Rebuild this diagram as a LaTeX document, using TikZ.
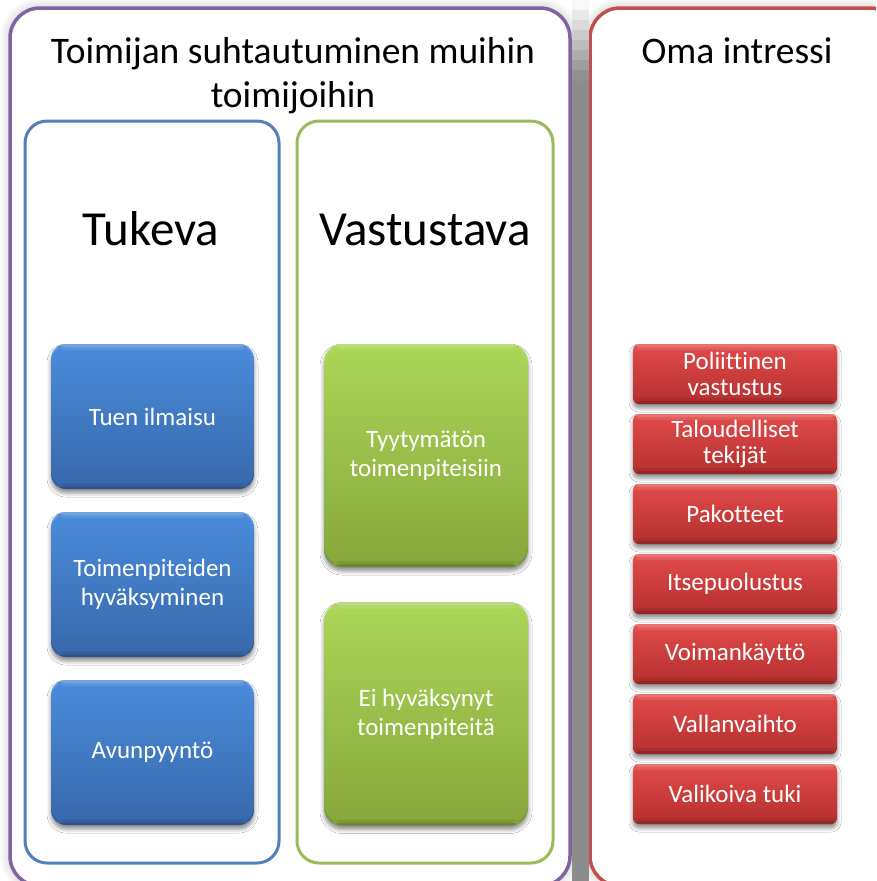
\documentclass[tikz,border=0pt]{standalone}
\usepackage{fontspec}
\setmainfont{Carlito}[Ligatures=NoCommon]
\usetikzlibrary{shadows.blur}

\definecolor{framepurple}{HTML}{8064A2}
\definecolor{frameblue}{HTML}{4F81BD}
\definecolor{framegreen}{HTML}{9BBB59}
\definecolor{framered}{HTML}{C0504D}
\definecolor{bluetop}{HTML}{4A8CDB}
\definecolor{bluebot}{HTML}{3868AA}
\definecolor{greentop}{HTML}{ABD657}
\definecolor{greenbot}{HTML}{86A73C}
\definecolor{redtop}{HTML}{E24B4B}
\definecolor{redbot}{HTML}{B42F2E}
\definecolor{gapgray}{HTML}{8C8C8C}

\begin{document}
\begin{tikzpicture}[x=1pt,y=-1pt,
  outerframe/.style={line width=3.5pt, fill=white, rounded corners=30pt},
  innerframe/.style={line width=3pt, fill=white, rounded corners=22pt},
  bevel/.style={path picture={
    \fill[white,opacity=0.22] (path picture bounding box.north west)
      rectangle ([yshift=-3pt]path picture bounding box.north east);
    \fill[white,opacity=0.10] ([yshift=-3pt]path picture bounding box.north west)
      rectangle ([yshift=-6pt]path picture bounding box.north east);
    \fill[black,opacity=0.18] (path picture bounding box.south west)
      rectangle ([yshift=3pt]path picture bounding box.south east);
    \fill[black,opacity=0.08] ([yshift=3pt]path picture bounding box.south west)
      rectangle ([yshift=6pt]path picture bounding box.south east);}},
  itembox/.style={text=white, align=center, inner sep=0pt,
    font=\fontsize{25}{29}\selectfont, bevel,
    blur shadow={shadow xshift=0pt, shadow yshift=-4pt,
                 shadow blur radius=4pt, shadow opacity=45}},
  bluebox/.style={itembox, minimum width=203pt, minimum height=145pt,
    rounded corners=15pt, top color=bluetop, bottom color=bluebot},
  greenbox/.style={itembox, minimum width=204pt, minimum height=223pt,
    rounded corners=18pt, top color=greentop, bottom color=greenbot},
  redbox/.style={itembox, minimum width=204pt, minimum height=60pt,
    rounded corners=6pt, top color=redtop, bottom color=redbot,
    font=\fontsize{25}{26}\selectfont},
  bigtitle/.style={anchor=base, font=\fontsize{37.5}{44}\selectfont},
  coltitle/.style={anchor=base, font=\fontsize{49}{54}\selectfont}]

\useasboundingbox (0,0) rectangle (876,881);
\clip (0,0) rectangle (876,881);
\fill[white] (0,0) rectangle (876,881);

% soft halo around the outer panels
\foreach \k in {1,...,10}{
  \pgfmathsetmacro\rr{30+\k}
  \fill[black,opacity=0.012,rounded corners=\rr pt]
    ({10-\k},{8-\k}) rectangle ({570+\k},{886+\k});
  \fill[black,opacity=0.012,rounded corners=\rr pt]
    ({590-\k},{8-\k}) rectangle ({900+\k},{886+\k});
}

% outer panels
\draw[outerframe, draw=framepurple] (10,8) rectangle (570,886);
\draw[outerframe, draw=framered] (590,8) rectangle (900,886);

% gray gap between the two outer panels, fading out towards the top
\fill[gapgray] (571.5,80) rectangle (588.5,881);
\foreach \i in {0,...,7}{
  \pgfmathtruncatemacro\pc{6+\i*13}
  \fill[gapgray!\pc!white] (571.5,{10*\i}) rectangle (588.5,{10*\i+10.5});
}

% inner columns
\draw[innerframe, draw=frameblue] (25,121) rectangle (279,863);
\draw[innerframe, draw=framegreen] (297,121) rectangle (553,863);

% headings
\node[bigtitle] (head1) at (293,63) {Toimijan suhtautuminen muihin};
\node[bigtitle] (head2) at (293,107) {toimijoihin};
\node[bigtitle] (headown) at (737,63) {Oma intressi};
\node[coltitle] (support) at (151,245) {Tukeva};
\node[coltitle] (oppose) at (425,245) {Vastustava};

% supporting column
\node[bluebox] (b1) at (152.5,416.5) {Tuen ilmaisu};
\node[bluebox] (b2) at (152.5,584.5) {Toimenpiteiden\\hyväksyminen};
\node[bluebox] (b3) at (152.5,752.5) {Avunpyyntö};

% opposing column
\node[greenbox] (g1) at (426,455.5) {Tyytymätön\\toimenpiteisiin};
\node[greenbox] (g2) at (426,714) {Ei hyväksynyt\\toimenpiteitä};

% own interest column
\node[redbox] (r1) at (735,374) {Poliittinen\\vastustus};
\node[redbox] (r2) at (735,444) {Taloudelliset\\tekijät};
\node[redbox] (r3) at (735,514) {Pakotteet};
\node[redbox] (r4) at (735,584) {Itsepuolustus};
\node[redbox] (r5) at (735,654) {Voimankäyttö};
\node[redbox] (r6) at (735,724) {Vallanvaihto};
\node[redbox] (r7) at (735,794) {Valikoiva tuki};

\end{tikzpicture}
\end{document}
